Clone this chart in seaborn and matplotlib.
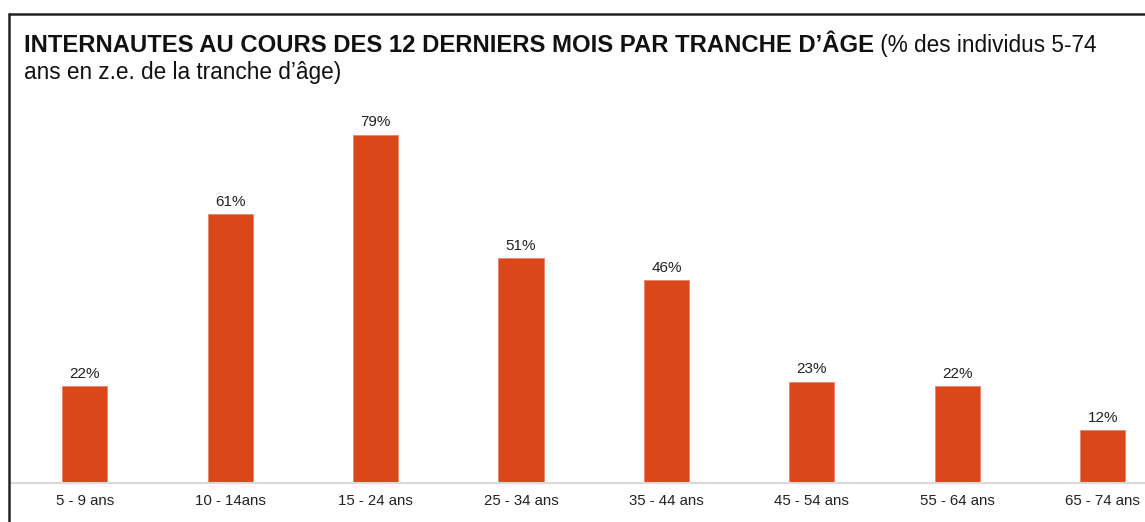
import matplotlib
matplotlib.use("Agg")
import matplotlib.pyplot as plt
import seaborn as sns
import pandas as pd
from matplotlib.lines import Line2D

# Data
age_groups = ["5 - 9 ans", "10 - 14ans", "15 - 24 ans", "25 - 34 ans",
              "35 - 44 ans", "45 - 54 ans", "55 - 64 ans", "65 - 74 ans"]
share_pct = [22, 61, 79, 51, 46, 23, 22, 12]

title_bold = "INTERNAUTES AU COURS DES 12 DERNIERS MOIS PAR TRANCHE D\u2019\u00c2GE"
title_rest = " (% des individus 5-74"
title_line2 = "ans en z.e. de la tranche d\u2019\u00e2ge)"

df = pd.DataFrame({"age": age_groups, "pct": share_pct})

sns.set_theme(style="white")
plt.rcParams["font.family"] = ["Liberation Sans", "DejaVu Sans"]

W, H = 1145, 522
fig = plt.figure(figsize=(W / 100, H / 100), dpi=100)
fig.patch.set_facecolor("white")

# axes placed in pixel terms: left edge 12px, baseline at 483px
ax = fig.add_axes([12 / W, (H - 483) / H, 1 - 12 / W, (483 - 110) / H])
sns.barplot(data=df, x="age", y="pct", color="#D9471A", width=0.31,
            saturation=1, ax=ax, edgecolor="#E8836A", linewidth=0.6)

ax.set_xlim(-0.5, (W - 85) / 145.4)
ax.set_ylim(0, (483 - 110) / 4.405)
ax.set_xlabel("")
ax.set_ylabel("")
ax.set_yticks([])
for side in ["top", "right", "left"]:
    ax.spines[side].set_visible(False)
ax.spines["bottom"].set_color("#d9d9d9")
ax.spines["bottom"].set_linewidth(1.5)
ax.tick_params(axis="x", length=0, pad=8, labelsize=10.8, labelcolor="#222222")

for p, v in zip(ax.patches, share_pct):
    ax.annotate(f"{v}%", (p.get_x() + p.get_width() / 2, p.get_height()),
                xytext=(0, 4), textcoords="offset points",
                ha="center", va="bottom", fontsize=11, color="#222222")

# title: bold part followed by regular part on the same line
t1 = fig.text(24 / W, 1 - 45 / H, title_bold, fontsize=17.2, fontweight="bold",
              color="#111111", va="center", ha="left")
fig.canvas.draw()
bb = t1.get_window_extent()
fig.text(bb.x1 / W, 1 - 45 / H, title_rest, fontsize=16.3, color="#111111",
         va="center", ha="left")
fig.text(24 / W, 1 - 73 / H, title_line2, fontsize=16.3, color="#111111",
         va="center", ha="left")

# frame around the chart (left and top edges visible)
fig.add_artist(Line2D([9 / W, 9 / W], [0, 1 - 14 / H], color="#222222", lw=1.8))
fig.add_artist(Line2D([9 / W, 1], [1 - 14 / H, 1 - 14 / H], color="#222222", lw=1.8))

fig.savefig("out.png", dpi=100)
